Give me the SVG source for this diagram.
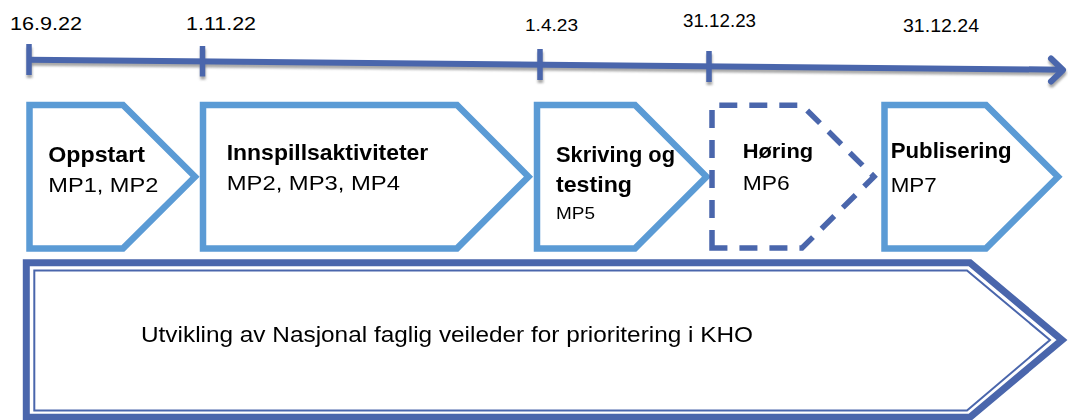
<svg xmlns="http://www.w3.org/2000/svg" width="1068" height="420" viewBox="0 0 1068 420">
<style>
  text { font-family: "Liberation Sans", Arial, sans-serif; fill: #000; }
  .date { font-size: 19px; }
  .title { font-size: 22px; font-weight: bold; }
  .sub { font-size: 21px; }
  .small { font-size: 16.5px; }
  .big { font-size: 22px; }
  .phase { fill: #fff; stroke: #5B9BD5; stroke-width: 6.5; stroke-linejoin: miter; }
  .dashed { fill: #fff; stroke: #4A66AC; stroke-width: 5.5; stroke-dasharray: 18 12; }
  .axis { stroke: #4A66AC; stroke-width: 6; fill: none; }
  .shadow { stroke: #8c8c8c; stroke-width: 6; fill: none; opacity: 0.75; }
  .tick { stroke: #4A66AC; stroke-width: 5.5; }
  .tickshadow { stroke: #8c8c8c; stroke-width: 5.5; opacity: 0.75; }
</style>
<defs>
  <filter id="blur" x="-5%" y="-50%" width="110%" height="200%">
    <feGaussianBlur stdDeviation="0.8"/>
  </filter>
</defs>
<rect width="1068" height="420" fill="#fff"/>

<g id="dates">
  <text class="date" x="10" y="30" textLength="72" lengthAdjust="spacingAndGlyphs">16.9.22</text>
  <text class="date" x="186" y="30" textLength="70" lengthAdjust="spacingAndGlyphs">1.11.22</text>
  <text class="date" x="525" y="31" style="font-size:17px" textLength="53" lengthAdjust="spacingAndGlyphs">1.4.23</text>
  <text class="date" x="683" y="27" style="font-size:18.5px" textLength="73" lengthAdjust="spacingAndGlyphs">31.12.23</text>
  <text class="date" x="903" y="31.7" style="font-size:18.5px" textLength="76" lengthAdjust="spacingAndGlyphs">31.12.24</text>
</g>

<g id="connectors">
  <g filter="url(#blur)" transform="translate(0.5,3)">
    <line class="shadow" x1="29" y1="59.7" x2="1062" y2="69.7"/>
    <polyline class="shadow" points="1051,58.5 1063,70 1051,81.5" stroke-linecap="round" stroke-linejoin="round"/>
    <line class="tickshadow" x1="29" y1="44.5" x2="29" y2="75"/>
    <line class="tickshadow" x1="202.5" y1="46" x2="202.5" y2="76.5"/>
    <line class="tickshadow" x1="540" y1="49" x2="540" y2="80"/>
    <line class="tickshadow" x1="709" y1="51" x2="709" y2="82"/>
  </g>
  <line class="axis" x1="29" y1="59.7" x2="1062" y2="69.7"/>
  <polyline class="axis" points="1051,58.5 1063,70 1051,81.5" stroke-linecap="round" stroke-linejoin="round"/>
  <line class="tick" x1="29" y1="44" x2="29" y2="75"/>
  <line class="tick" x1="202.5" y1="46" x2="202.5" y2="76.5"/>
  <line class="tick" x1="540" y1="49" x2="540" y2="80"/>
  <line class="tick" x1="709" y1="51" x2="709" y2="82"/>
</g>

<g id="oppstart">
  <polygon class="phase" points="29.5,105 123,105 195,176.7 123,248.4 29.5,248.4"/>
  <text class="title" x="48.3" y="161.7" textLength="96.7" lengthAdjust="spacingAndGlyphs">Oppstart</text>
  <text class="sub" x="48.3" y="191.7" textLength="110" lengthAdjust="spacingAndGlyphs">MP1, MP2</text>
</g>

<g id="innspill">
  <polygon class="phase" points="203,105 457,105 528.5,176.7 457,248.4 203,248.4"/>
  <text class="title" x="226.7" y="160" textLength="201.6" lengthAdjust="spacingAndGlyphs">Innspillsaktiviteter</text>
  <text class="sub" x="226.7" y="190" textLength="173.3" lengthAdjust="spacingAndGlyphs">MP2, MP3, MP4</text>
</g>

<g id="skriving">
  <polygon class="phase" points="537,105 635,105 706.5,176.7 635,248.4 537,248.4"/>
  <text class="title" x="556" y="162" textLength="119" lengthAdjust="spacingAndGlyphs">Skriving og</text>
  <text class="title" x="556" y="192" textLength="76" lengthAdjust="spacingAndGlyphs">testing</text>
  <text class="small" x="556" y="219" textLength="39" lengthAdjust="spacingAndGlyphs">MP5</text>
</g>

<g id="horing">
  <path class="dashed" d="M712,248 L712,105.3 L802,105.3 L874,176.7 L802,248 Z"/>
  <text class="title" x="742.7" y="158.3" style="font-size:21px" textLength="70.5" lengthAdjust="spacingAndGlyphs">Høring</text>
  <text class="sub" x="742.7" y="190" textLength="47" lengthAdjust="spacingAndGlyphs">MP6</text>
</g>

<g id="publisering">
  <polygon class="phase" points="884.5,105 986,105 1058,176.7 986,248.4 884.5,248.4"/>
  <text class="title" x="890.7" y="158.3" textLength="121" lengthAdjust="spacingAndGlyphs">Publisering</text>
  <text class="sub" x="890.7" y="191.7" textLength="46" lengthAdjust="spacingAndGlyphs">MP7</text>
</g>

<g id="utvikling">
  <polygon points="26.3,262.8 970,262.8 1062,340 970,417.2 26.3,417.2" fill="#fff" stroke="#4A66AC" stroke-width="7"/>
  <polygon points="34.3,270.5 967,270.5 1050,340 967,410.5 34.3,410.5" fill="none" stroke="#4A66AC" stroke-width="2"/>
  <text class="big" x="141" y="341.7" textLength="612" lengthAdjust="spacingAndGlyphs">Utvikling av Nasjonal faglig veileder for prioritering i KHO</text>
</g>
</svg>
